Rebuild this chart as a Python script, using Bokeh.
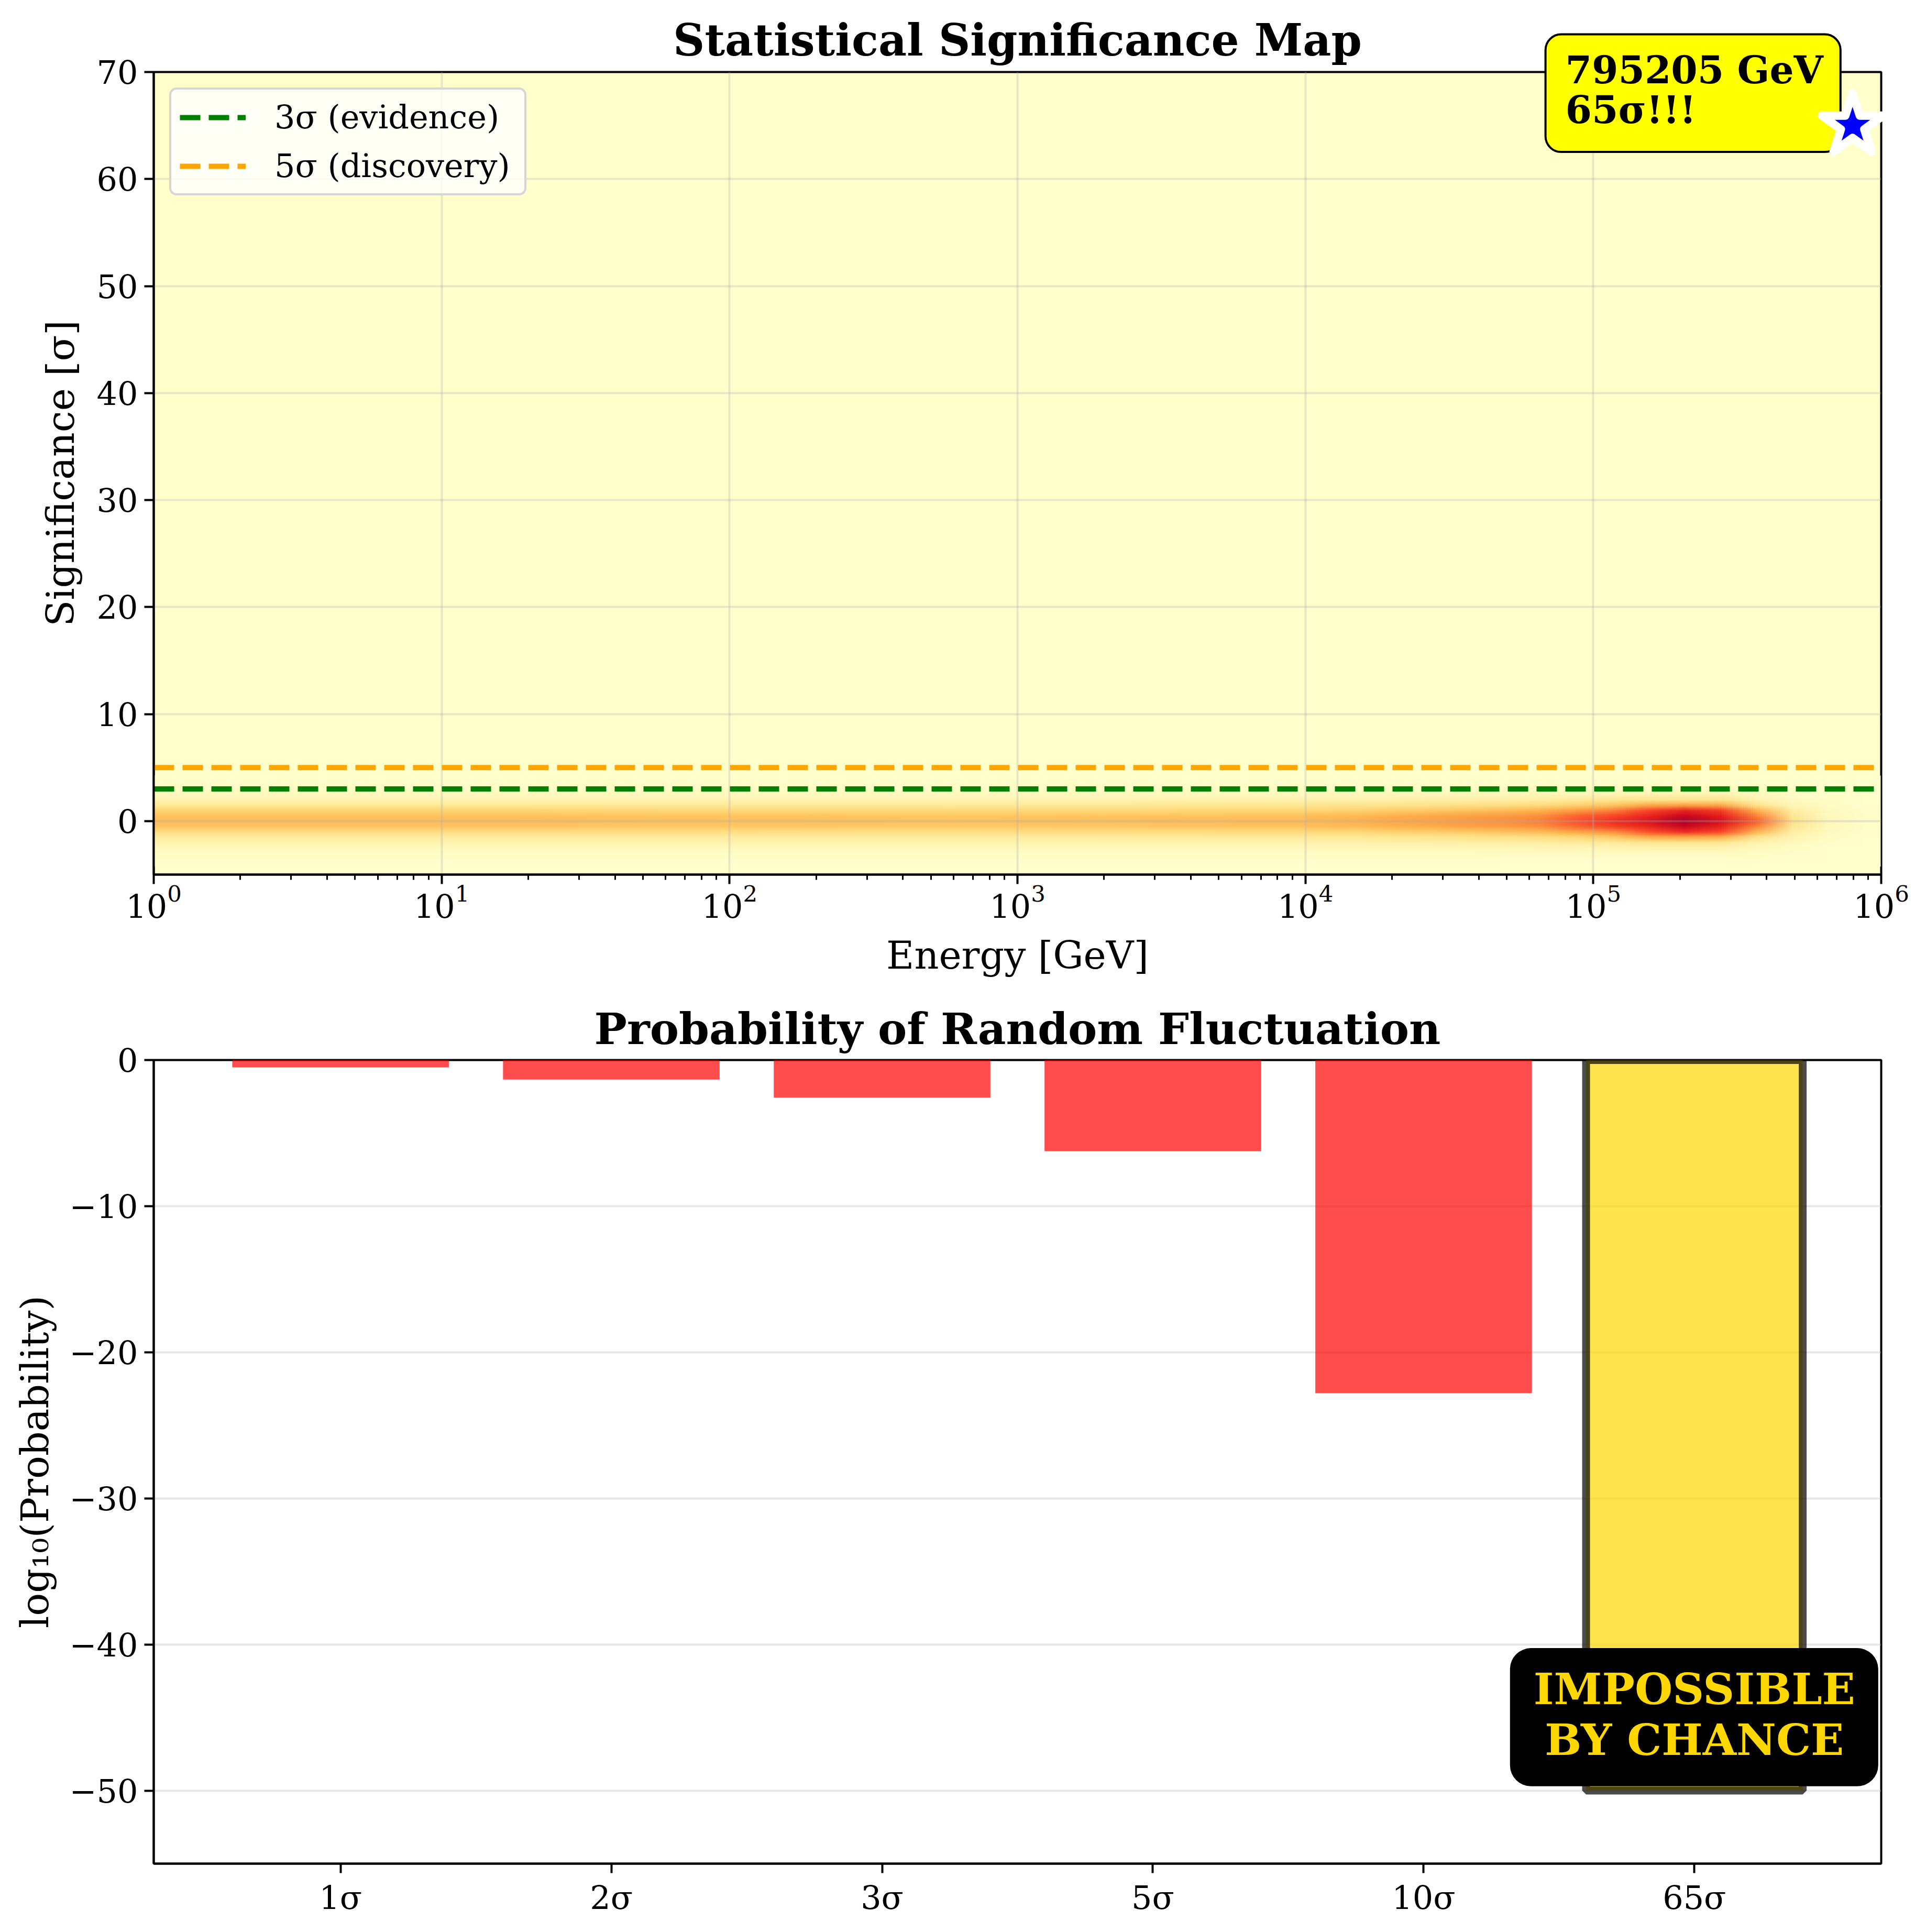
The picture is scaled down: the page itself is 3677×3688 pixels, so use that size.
import base64, struct, zlib
import numpy as np
from bokeh.embed import file_html
from bokeh.layouts import column
from bokeh.models import (BoxAnnotation, FactorRange, FixedTicker, Label, Legend, LegendItem, Range1d,
                          SingleIntervalTicker)
from bokeh.plotting import figure
from bokeh.resources import INLINE

# Mapa de significancia: columnas en log10(E), filas en sigma
# las primeras 8 columnas van cada 0.5 decadas, las otras 16 cada 0.125
low_cols = 8
sig_levels = [-4, -3.5, -3, -2.5, -2, -1.5, -1, -0.5, 0, 0.5, 1, 1.5, 2, 2.5, 3, 3.5, 4]
row_m40 = [0, 0, 0, 0, 0, 0, 0, 0, 0, 0, 0, 0, 0, 0, 0, 0, 0, 0, 0, 0, 0, 0, 0, 0]
row_m35 = [.01, .01, .01, .01, .01, .01, .01, .01, .01, .01, .01, .01, .01, .01, .01, .01, .01, .01, .01, .01, .01, 0, 0, 0]
row_m30 = [.02, .02, .02, .02, .02, .02, .02, .02, .02, .02, .02, .02, .02, .03, .03, .03, .03, .03, .03, .03, .02, .01, 0, 0]
row_m25 = [.04, .04, .04, .04, .04, .04, .04, .04, .05, .05, .05, .05, .05, .05, .06, .06, .07, .08, .08, .08, .04, .02, 0, 0]
row_m20 = [.08, .08, .08, .08, .08, .08, .08, .08, .09, .09, .10, .10, .11, .11, .12, .13, .14, .16, .17, .16, .09, .04, .01, 0]
row_m15 = [.13, .13, .13, .13, .13, .13, .13, .14, .15, .15, .16, .17, .18, .19, .21, .25, .29, .38, .40, .37, .18, .07, .02, 0]
row_m10 = [.21, .21, .21, .21, .20, .20, .21, .22, .24, .25, .27, .28, .30, .32, .34, .41, .48, .62, .70, .64, .36, .11, .03, .01]
row_m05 = [.31, .31, .31, .30, .30, .29, .30, .31, .33, .34, .37, .39, .42, .44, .48, .57, .65, .72, .83, .73, .51, .16, .04, .01]
row_p00 = [.34, .34, .34, .33, .33, .33, .33, .35, .36, .38, .41, .43, .46, .49, .53, .62, .70, .78, .92, .80, .60, .20, .05, .01]
row_p05 = [.32, .32, .32, .31, .31, .30, .31, .32, .34, .35, .38, .40, .43, .45, .49, .58, .64, .72, .84, .74, .52, .16, .04, .01]
row_p10 = [.26, .26, .26, .25, .25, .24, .24, .25, .26, .27, .29, .30, .32, .34, .37, .44, .52, .64, .72, .66, .38, .12, .03, .01]
row_p15 = [.15, .15, .15, .15, .14, .14, .15, .16, .17, .17, .18, .19, .20, .21, .23, .27, .31, .40, .42, .40, .18, .06, .02, 0]
row_p20 = [.08, .08, .08, .08, .08, .08, .08, .09, .09, .09, .10, .10, .11, .11, .12, .14, .16, .18, .17, .18, .09, .03, .01, 0]
row_p25 = [.04, .04, .04, .04, .04, .04, .04, .04, .05, .05, .05, .05, .05, .05, .06, .06, .07, .08, .08, .08, .04, .02, 0, 0]
row_p30 = [.02, .02, .02, .02, .02, .02, .02, .02, .02, .02, .02, .02, .02, .03, .03, .03, .03, .03, .03, .03, .02, .01, 0, 0]
row_p35 = [.01, .01, .01, .01, .01, .01, .01, .01, .01, .01, .01, .01, .01, .01, .01, .01, .01, .01, .01, .01, .01, 0, 0, 0]
row_p40 = [0, 0, 0, 0, 0, 0, 0, 0, 0, 0, 0, 0, 0, 0, 0, 0, 0, 0, 0, 0, 0, 0, 0, 0]

sigma_3 = [3, 3]
sigma_5 = [5, 5]
energy_span = [1, 1e6]
best_energy = [795205]
best_sigma = [65]

# Barras de probabilidad
categories = ["1σ", "2σ", "3σ", "5σ", "10σ", "65σ"]
log_prob = [-0.5, -1.34, -2.57, -6.24, -22.8, -50]
y_ticks_prob = [0, -10, -20, -30, -40, -50]

FONT = "DejaVu Serif"
ylorrd = [(255, 255, 204), (255, 237, 160), (254, 217, 118), (254, 178, 76), (253, 141, 60),
          (252, 78, 42), (227, 26, 28), (189, 0, 38), (128, 0, 38)]


# Cada celda leida es un pixel del PNG; el navegador lo suaviza al escalarlo, como imshow
def heat_png(cells):
    cells = np.asarray(cells)[::-1]
    anchors = np.linspace(0, 1, len(ylorrd))
    rgb = np.stack([np.interp(cells, anchors, [c[i] for c in ylorrd]) for i in range(3)], axis=-1).astype("uint8")
    raw = b"".join(b"\x00" + row.tobytes() for row in rgb)

    def chunk(tag, data):
        return struct.pack(">I", len(data)) + tag + data + struct.pack(">I", zlib.crc32(tag + data))

    head = struct.pack(">IIBBBBB", rgb.shape[1], rgb.shape[0], 8, 2, 0, 0, 0)
    png = b"\x89PNG\r\n\x1a\n" + chunk(b"IHDR", head) + chunk(b"IDAT", zlib.compress(raw)) + chunk(b"IEND", b"")
    return "data:image/png;base64," + base64.b64encode(png).decode()


def style_axes(f):
    f.outline_line_color = "black"
    f.outline_line_width = 4
    for ax in f.xaxis + f.yaxis:
        ax.axis_line_width = 4
        ax.major_tick_in = 0
        ax.major_tick_out = 18
        ax.major_tick_line_width = 4
        ax.minor_tick_in = 0
        ax.minor_tick_out = 10
        ax.minor_tick_line_width = 3
        ax.major_label_text_font = FONT
        ax.major_label_text_font_size = "62px"
        ax.major_label_text_color = "black"
        ax.major_label_standoff = 10
        ax.axis_label_text_font = FONT
        ax.axis_label_text_font_size = "73px"
        ax.axis_label_text_font_style = "normal"
        ax.axis_label_text_color = "black"
        ax.axis_label_standoff = 26
    for g in f.grid:
        g.grid_line_color = "#b0b0b0"
        g.grid_line_alpha = 0.3
        g.grid_line_width = 4


# ---- mapa de significancia
# el cuadro amarillo se sale del marco: hay que ponerlo en un panel, y el borde sobrante queda fuera de la pagina
top = figure(width=3677, height=2131, x_axis_type="log", output_backend="svg", toolbar_location=None,
             x_range=Range1d(1, 1e6), y_range=Range1d(-5, 70),
             x_axis_label="Energy [GeV]", y_axis_label="Significance [σ]", margin=(-263, 0, 0, 0),
             min_border_left=293, min_border_right=86, min_border_top=400, min_border_bottom=197)
top.background_fill_color = "#ffffcc"
style_axes(top)
top.xaxis.major_label_standoff = 0
top.yaxis.ticker = SingleIntervalTicker(interval=10, num_minor_ticks=0)
top.yaxis.minor_tick_line_color = None
top.yaxis.major_label_standoff = 12
top.yaxis.axis_label_standoff = 24

heat = np.array([row_m40, row_m35, row_m30, row_m25, row_m20, row_m15, row_m10, row_m05, row_p00,
                 row_p05, row_p10, row_p15, row_p20, row_p25, row_p30, row_p35, row_p40])
sig_step = sig_levels[1] - sig_levels[0]
sig_low = sig_levels[0] - sig_step / 2
sig_size = sig_step * len(sig_levels)
top.image_url(url=[heat_png(heat[:, :low_cols])], x=1, y=sig_low, w=1e4 - 1, h=sig_size, anchor="bottom_left", level="image")
top.image_url(url=[heat_png(heat[:, low_cols:])], x=1e4, y=sig_low, w=1e6 - 1e4, h=sig_size, anchor="bottom_left", level="image")

line_3 = top.line(energy_span, sigma_3, line_color="green", line_width=10, line_dash=[39, 16])
line_5 = top.line(energy_span, sigma_5, line_color="orange", line_width=10, line_dash=[39, 16])
# la estrella va encima del cuadro amarillo
top.scatter(best_energy, best_sigma, marker="star", size=123, fill_color="blue", line_color="white",
            line_width=16, line_join="round", level="overlay")

legend = Legend(items=[LegendItem(label="3σ (evidence)", renderers=[line_3]),
                       LegendItem(label="5σ (discovery)", renderers=[line_5])],
                location="top_left", margin=30, padding=16, spacing=20, label_standoff=55,
                glyph_width=126, glyph_height=50, label_text_font=FONT, label_text_font_size="62px",
                label_text_color="black", label_height=50, label_width=461, background_fill_alpha=0.8,
                border_line_color="#cccccc", border_line_alpha=0.8, border_line_width=4)
if "border_radius" in Legend.properties():
    legend.border_radius = 14
top.add_layout(legend)

top.add_layout(Label(x=1000, y=70, y_offset=61, text="Statistical Significance Map", text_font=FONT,
                     text_font_style="bold", text_font_size="83.6px", text_color="black", text_align="center",
                     text_baseline="alphabetic"), "above")
top.add_layout(Label(x=10 ** 4.834, y=73.52, text="795205 GeV\n65σ!!!", text_font=FONT, text_font_style="bold",
                     text_font_size="72.5px", text_color="black", text_line_height=0.9, anchor="top_left",
                     padding=(38, 33, 25, 38), border_radius=30, background_fill_color="yellow",
                     border_line_color="black", border_line_width=4), "above")

# ---- barras de probabilidad
bottom = figure(width=3677, height=1820, output_backend="svg", toolbar_location=None,
                x_range=FactorRange(factors=categories, range_padding=0.19, range_padding_units="absolute"),
                y_range=Range1d(-55, 0), title="Probability of Random Fluctuation",
                y_axis_label="log₁₀(Probability)",
                min_border_left=293, min_border_right=86, min_border_top=155, min_border_bottom=131)
style_axes(bottom)
bottom.title.text_font = FONT
bottom.title.text_font_style = "bold"
bottom.title.text_font_size = "83px"
bottom.title.text_color = "black"
bottom.title.align = "center"
bottom.title.standoff = 22
bottom.xgrid.visible = False
bottom.yaxis.ticker = FixedTicker(ticks=y_ticks_prob)
bottom.yaxis.major_label_overrides = {t: str(t).replace("-", "−") for t in y_ticks_prob}
bottom.yaxis.major_label_standoff = 12
bottom.yaxis.axis_label_standoff = 21
bottom.xaxis.major_label_orientation = "horizontal"

bottom.vbar(x=categories[:-1], top=log_prob[:-1], bottom=0, width=0.8, fill_color="red", fill_alpha=0.7,
            line_color=None)
bottom.vbar(x=categories[-1:], top=log_prob[-1:], bottom=0, width=0.8, fill_color="gold", fill_alpha=0.7,
            line_color="black", line_alpha=0.7, line_width=15)

bottom.add_layout(BoxAnnotation(left=4.819, right=6.179, top=-40.25, bottom=-49.7, fill_color="black", fill_alpha=1,
                                line_color=None, border_radius=40))
bottom.add_layout(Label(x=5.5, y=-41.29, text="IMPOSSIBLE\nBY CHANCE", text_font=FONT,
                        text_font_style="bold", text_font_size="83px", text_color="gold", text_line_height=0.99,
                        text_align="center", anchor="top_center"))

p = column(top, bottom, spacing=0)
open("out.html", "w").write(file_html(p, INLINE))
